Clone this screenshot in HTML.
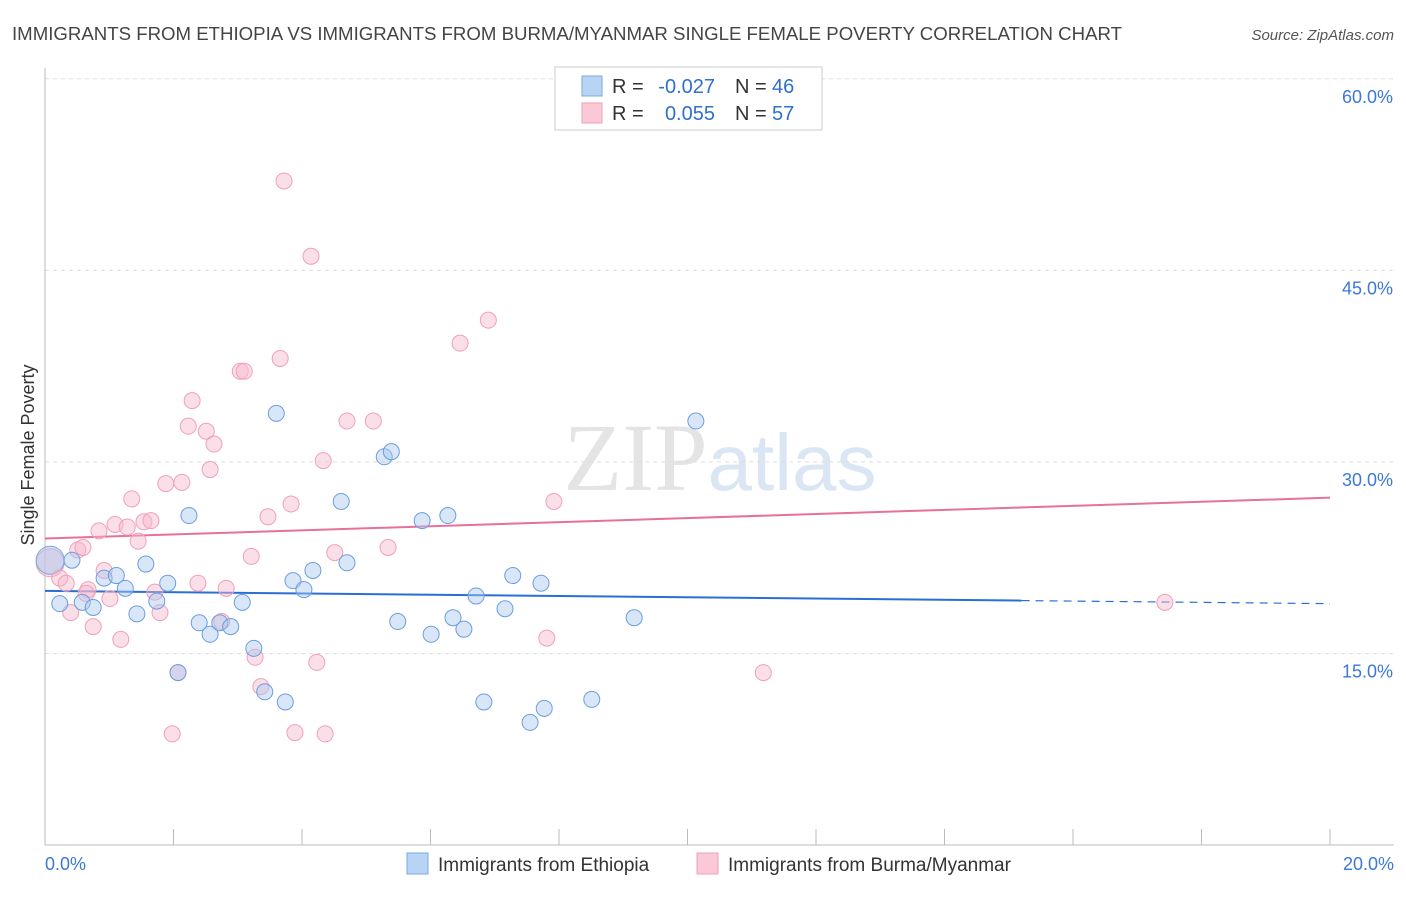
<!DOCTYPE html>
<html><head><meta charset="utf-8"><style>
body{margin:0;background:#fff;font-family:"Liberation Sans",sans-serif;}
</style></head><body>
<svg id="chart" width="1406" height="892" xmlns="http://www.w3.org/2000/svg" font-family="Liberation Sans, sans-serif">
<text x="12" y="40" font-size="18" fill="#444" textLength="1110" lengthAdjust="spacingAndGlyphs">IMMIGRANTS FROM ETHIOPIA VS IMMIGRANTS FROM BURMA/MYANMAR SINGLE FEMALE POVERTY CORRELATION CHART</text>
<text x="1394" y="40" font-size="15" fill="#555" text-anchor="end" font-style="italic">Source: ZipAtlas.com</text>
<text x="720" y="490" font-size="96" text-anchor="middle" fill="#e4e4e4"><tspan font-family="Liberation Serif, serif">ZIP</tspan><tspan fill="#dbe6f4" font-size="80">atlas</tspan></text>
<text transform="translate(34,455) rotate(-90)" font-size="18" fill="#333" text-anchor="middle">Single Female Poverty</text>
<g id="grid"></g><g id="axes"></g><g id="trend"></g><g id="pts"></g>
<g>
<rect x="555" y="67" width="267" height="63" fill="#fff" stroke="#ccc"/>
<rect x="582" y="76" width="20" height="20" fill="#b8d4f4" stroke="#7aa8e0"/>
<rect x="582" y="103" width="20" height="20" fill="#fbc8d8" stroke="#f0a0b8"/>
<text x="612" y="93" font-size="20" fill="#333">R =</text>
<text x="715" y="93" font-size="20" fill="#2f6fd0" text-anchor="end">-0.027</text>
<text x="735" y="93" font-size="20" fill="#333">N =</text>
<text x="772" y="93" font-size="20" fill="#2f6fd0">46</text>
<text x="612" y="120" font-size="20" fill="#333">R =</text>
<text x="715" y="120" font-size="20" fill="#2f6fd0" text-anchor="end">0.055</text>
<text x="735" y="120" font-size="20" fill="#333">N =</text>
<text x="772" y="120" font-size="20" fill="#2f6fd0">57</text>
</g>
<g>
<rect x="407" y="853" width="21" height="21" fill="#b8d4f4" stroke="#7aa8e0"/>
<text x="438" y="871" font-size="19" fill="#333">Immigrants from Ethiopia</text>
<rect x="697" y="853" width="21" height="21" fill="#fbc8d8" stroke="#f0a0b8"/>
<text x="728" y="871" font-size="19" fill="#333">Immigrants from Burma/Myanmar</text>
</g>
</svg>
<script>
const yTicks=[15,30,45,60];
const xLabels=["0.0%","20.0%"];
const ethX=[0.42,0.23,0.58,0.75,0.92,1.11,1.25,1.43,1.57,1.74,1.91,2.07,2.24,2.40,2.57,2.72,2.89,3.07,3.25,3.42,3.60,3.74,3.86,4.03,4.17,4.61,4.70,5.28,5.39,5.49,5.87,6.01,6.27,6.35,6.52,6.71,6.83,7.16,7.28,7.55,7.72,7.77,8.51,9.17,10.13];
const ethY=[22.3,18.9,19.0,18.6,20.9,21.1,20.1,18.1,22.0,19.1,20.5,13.5,25.8,17.4,16.5,17.4,17.1,19.0,15.4,12.0,33.8,11.2,20.7,20.0,21.5,26.9,22.1,30.4,30.8,17.5,25.4,16.5,25.8,17.8,16.9,19.5,11.2,18.5,21.1,9.6,20.5,10.7,11.4,17.8,33.2];
const burX=[0.23,0.33,0.40,0.51,0.59,0.67,0.75,0.84,0.92,1.01,1.09,1.18,1.28,1.35,1.45,1.54,1.65,1.71,1.79,1.88,1.98,2.07,2.13,2.23,2.29,2.38,2.51,2.57,2.63,2.75,2.82,3.04,3.10,3.21,3.27,3.36,3.47,3.66,3.72,3.83,3.89,4.14,4.23,4.33,4.36,4.51,4.70,5.11,5.34,6.46,6.90,7.81,7.92,11.18,17.43,0.64];
const burY=[20.9,20.5,18.2,23.1,23.3,20.0,17.1,24.6,21.5,19.3,25.1,16.1,24.9,27.1,23.8,25.3,25.4,19.8,18.2,28.3,8.7,13.5,28.4,32.8,34.8,20.5,32.4,29.4,31.4,17.5,20.1,37.1,37.1,22.6,14.7,12.4,25.7,38.1,52.0,26.7,8.8,46.1,14.3,30.1,8.7,22.9,33.2,33.2,23.3,39.3,41.1,16.2,26.9,13.5,19.0,19.7];
const ethBig=[0.08,22.3], burBig=[0.08,22.1];
const ethTrend=[19.9,18.9], burTrend=[24.0,27.2];
const NS="http://www.w3.org/2000/svg";
const X=v=>45+v*64.25, Y=v=>845-v*12.77;
function mk(t,a,p){const e=document.createElementNS(NS,t);for(const k in a)e.setAttribute(k,a[k]);document.getElementById(p).appendChild(e);return e;}
yTicks.forEach(t=>{
 const g=mk('line',{x1:45,x2:1394,y1:Y(t),y2:Y(t),stroke:'#ddd','stroke-dasharray':'4,4'},'grid');
 
 
 const l=mk('text',{x:1393,y:Y(t)+24,'font-size':18,fill:'#3b78d8','text-anchor':'end'},'axes');
 l.textContent=t.toFixed(1)+'%';
 
 
});
let ax=mk('line',{x1:45,x2:1394,y1:845,y2:845,stroke:'#bbb'},'axes');


let ay=mk('line',{x1:45,x2:45,y1:68,y2:845,stroke:'#bbb'},'axes');


for(let i=0;i<=10;i++){const t=mk('line',{x1:X(i*2),x2:X(i*2),y1:829,y2:845,stroke:'#bbb'},'axes');
 
 }
const xl0=mk('text',{x:45,y:870,'font-size':18,fill:'#3b78d8'},'axes');xl0.textContent=xLabels[0];


const xl1=mk('text',{x:1394,y:870,'font-size':18,fill:'#3b78d8','text-anchor':'end'},'axes');xl1.textContent=xLabels[1];


const bEnd=15.2, slope=(ethTrend[1]-ethTrend[0])/20;
let t1=mk('line',{x1:X(0),y1:Y(ethTrend[0]),x2:X(bEnd),y2:Y(ethTrend[0]+slope*bEnd),stroke:'#2a6fd6','stroke-width':2},'trend');


let t2=mk('line',{x1:X(bEnd),y1:Y(ethTrend[0]+slope*bEnd),x2:X(20),y2:Y(ethTrend[1]),stroke:'#2a6fd6','stroke-width':1.2,'stroke-dasharray':'8,6'},'trend');


let t3=mk('line',{x1:X(0),y1:Y(burTrend[0]),x2:X(20),y2:Y(burTrend[1]),stroke:'#e8709a','stroke-width':2},'trend');


function pts(xs,ys,fill,stroke,name){xs.forEach((x,i)=>{const c=mk('circle',{cx:X(x),cy:Y(ys[i]),r:8,fill:fill,'fill-opacity':0.45,stroke:stroke,'stroke-width':1},'pts');
 
 });}
let bb=mk('circle',{cx:X(burBig[0]),cy:Y(burBig[1]),r:14,fill:'#f7b8cc','fill-opacity':0.5,stroke:'#f0a0b8'},'pts');


let eb=mk('circle',{cx:X(ethBig[0]),cy:Y(ethBig[1]),r:14,fill:'#a9c8ef','fill-opacity':0.5,stroke:'#7aa8e0'},'pts');


pts(burX,burY,'#f7b8cc','#f0a0b8','burma-point');
pts(ethX,ethY,'#a9c8ef','#6b9edf','ethiopia-point');
</script>
</body></html>
